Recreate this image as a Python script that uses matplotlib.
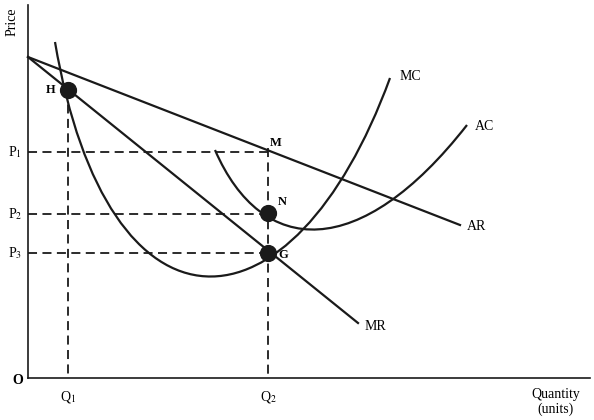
import matplotlib
matplotlib.use("Agg")
import matplotlib.pyplot as plt
from matplotlib.path import Path
from matplotlib.patches import PathPatch

plt.rcParams['font.family'] = 'Liberation Serif'
plt.rcParams['mathtext.fontset'] = 'stix'

# diagram geometry (pixel-like units, y down)
origin = (28, 378)
ar_line = [(28, 57), (460, 225)]
mr_line = [(28, 57), (358, 323)]
mc_ctrl = [(55, 42), (108, 352), (292, 345), (390, 78)]
ac_ctrl = [(215, 150), (262, 258), (360, 262), (467, 125)]
points = {'H': (68, 90), 'N': (268, 213), 'G': (268, 253)}
price_levels = {r'P$_1$': 152, r'P$_2$': 214, r'P$_3$': 253}
q1_x, q2_x = 68, 268

fig = plt.figure(figsize=(5.94, 4.2), dpi=100)
ax = fig.add_axes([0, 0, 1, 1])
ax.set_xlim(0, 594)
ax.set_ylim(420, 0)
ax.axis('off')

lc = '#1a1a1a'
# axes
ax.plot([origin[0], origin[0]], [5, origin[1]], color=lc, lw=1.2)
ax.plot([origin[0], 590], [origin[1], origin[1]], color=lc, lw=1.2)

# straight lines
ax.plot(*zip(*ar_line), color=lc, lw=1.6)
ax.plot(*zip(*mr_line), color=lc, lw=1.6)

# curves
cubic = [Path.MOVETO, Path.CURVE4, Path.CURVE4, Path.CURVE4]
for ctrl in (mc_ctrl, ac_ctrl):
    ax.add_patch(PathPatch(Path(ctrl, cubic), fill=False, ec=lc, lw=1.6))

# dashed guides
dash = dict(color=lc, lw=1.3, ls=(0, (5, 3)))
for lab, y in price_levels.items():
    ax.plot([origin[0], q2_x], [y, y], **dash)
    ax.text(8, y, lab, fontsize=10, va='center')
ax.plot([q2_x, q2_x], [148, origin[1]], **dash)
ax.plot([q1_x, q1_x], [points['H'][1], origin[1]], **dash)

# dots
for name, (x, y) in points.items():
    ax.scatter([x], [y], s=130, color=lc, zorder=5)

# labels
ax.text(46, 90, 'H', fontsize=9, fontweight='bold', va='center')
ax.text(278, 202, 'N', fontsize=9, fontweight='bold', va='center')
ax.text(278, 255, 'G', fontsize=9, fontweight='bold', va='center')
ax.text(270, 143, 'M', fontsize=9, fontweight='bold', va='center')
ax.text(400, 76, 'MC', fontsize=10, va='center')
ax.text(475, 127, 'AC', fontsize=10, va='center')
ax.text(467, 226, 'AR', fontsize=10, va='center')
ax.text(365, 326, 'MR', fontsize=10, va='center')
ax.text(12, 380, 'O', fontsize=10, fontweight='bold', va='center')
ax.text(q1_x, 397, r'Q$_1$', fontsize=10, ha='center', va='center')
ax.text(q2_x, 397, r'Q$_2$', fontsize=10, ha='center', va='center')
ax.text(556, 402, 'Quantity\n(units)', fontsize=10, ha='center', va='center')
ax.text(12, 22, 'Price', fontsize=10, rotation=90, ha='center', va='center')

fig.savefig('out.png', dpi=100)
